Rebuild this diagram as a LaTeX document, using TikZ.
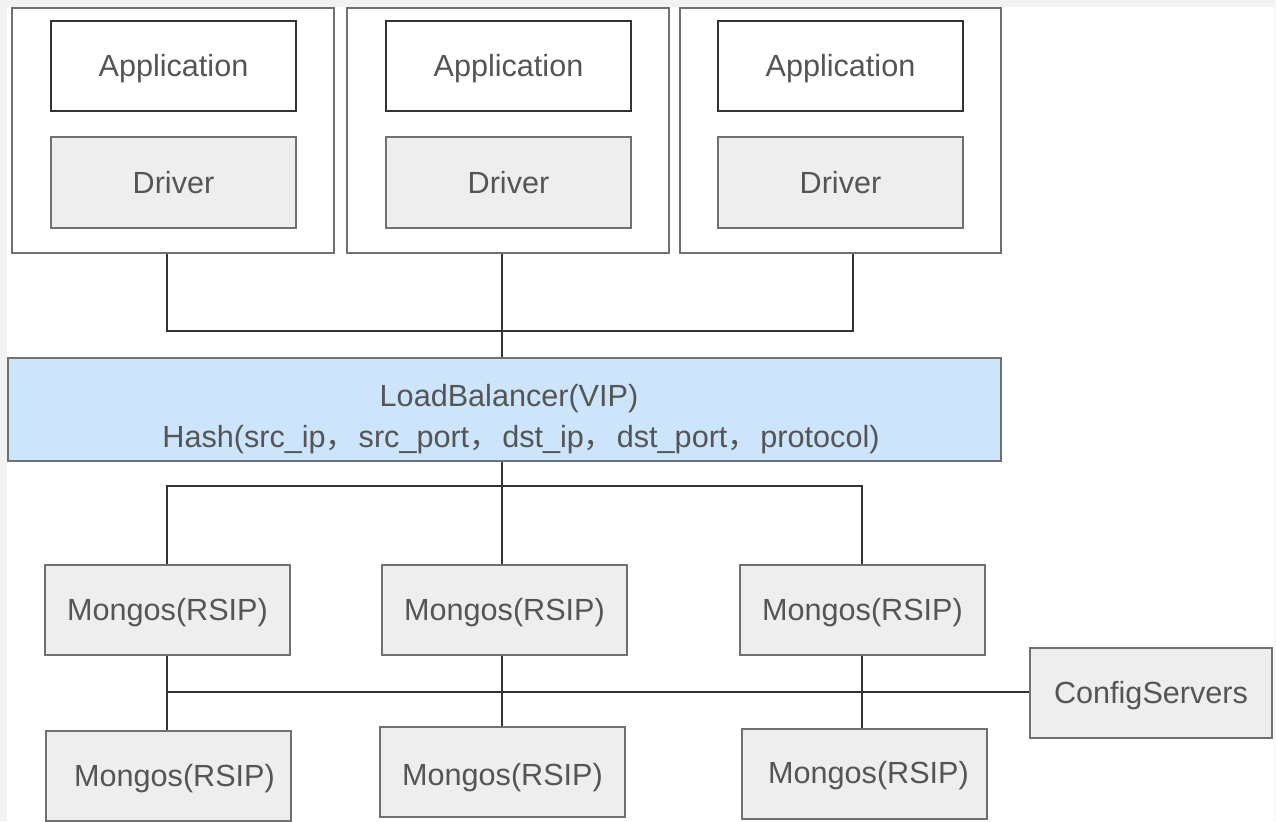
\documentclass[tikz,border=0pt]{standalone}
\usepackage{fontspec}
\setmainfont{Liberation Sans}
\newfontfamily\cjkf{Noto Sans CJK SC}
\newcommand{\fwc}{{\cjkf ，}\hspace{1.2pt}}
\definecolor{txt}{HTML}{555555}
\definecolor{bord}{HTML}{707070}
\definecolor{drvfill}{HTML}{EEEEEE}
\definecolor{lbfill}{HTML}{CCE5FB}
\definecolor{wire}{HTML}{333333}
\begin{document}
\begin{tikzpicture}[x=0.5pt,y=-0.5pt,
  every node/.style={font=\fontsize{15.3}{18.5}\selectfont, text=txt},
  onel/.style={text height=13.8pt, text depth=3.2pt},
  outerbox/.style={draw=bord, line width=0.7pt, fill=white, minimum width=161pt, minimum height=122.5pt, inner sep=0pt},
  appbox/.style={onel, draw=black!80, line width=0.7pt, fill=white, minimum width=122.5pt, minimum height=45pt, inner sep=0pt},
  grbox/.style={onel, draw=bord, line width=0.7pt, fill=drvfill, minimum width=122.5pt, minimum height=45pt, inner sep=0pt},
  lbbox/.style={draw=bord, line width=0.7pt, fill=lbfill, minimum width=496.5pt, minimum height=51.5pt, inner sep=0pt},
  lbtext/.style={onel, inner sep=0pt},
  wireline/.style={draw=wire, line width=0.7pt}]
\useasboundingbox (0,0) rectangle (1276,821);
\fill[white] (0,0) rectangle (1276,821);
\fill[black!5] (0,0) rectangle (1276,7);
\fill[black!5] (0,0) rectangle (7,821);
\fill[black!3] (1274,0) rectangle (1276,821);
% client groups
\node[outerbox] (o1) at (173,130.5) {};
\node[outerbox] (o2) at (508,130.5) {};
\node[outerbox, minimum width=160.5pt] (o3) at (840.5,130.5) {};
\node[appbox] (a1) at (173.5,66) {Application};
\node[appbox] (a2) at (508.5,66) {Application};
\node[appbox] (a3) at (840.5,66) {Application};
\node[grbox, minimum height=45.5pt] (d1) at (173.5,182.5) {Driver};
\node[grbox, minimum height=45.5pt] (d2) at (508.5,182.5) {Driver};
\node[grbox, minimum height=45.5pt] (d3) at (840.5,182.5) {Driver};
% load balancer
\node[lbbox] (lb) at (504.5,409.5) {};
\node[lbtext] (lbt1) at (509,396) {LoadBalancer(VIP)};
\node[lbtext] (lbt2) at (521,437) {Hash(src\_ip\fwc src\_port\fwc dst\_ip\fwc dst\_port\fwc protocol)};
% mongos
\node[grbox] (m1) at (167.5,610) {Mongos(RSIP)};
\node[grbox] (m2) at (504.5,610) {Mongos(RSIP)};
\node[grbox] (m3) at (862.5,610) {Mongos(RSIP)};
\node[grbox] (m4) at (168.5,776) {\hspace{6pt}Mongos(RSIP)};
\node[grbox] (m5) at (502.5,772) {\raisebox{-1.5pt}{Mongos(RSIP)}};
\node[grbox] (m6) at (864.5,774) {\hspace{4pt}\raisebox{0.8pt}{Mongos(RSIP)}};
\node[grbox, minimum width=121pt] (cs) at (1151,693) {ConfigServers};
% top connectors
\coordinate (j1) at (167,331);
\coordinate (j2) at (502,331);
\coordinate (j3) at (853,331);
\draw[wireline] (j1 |- o1.south) -- (j1) -- (j3) -- (j3 |- o3.south);
\draw[wireline] (j2 |- o2.south) -- (j2 |- lb.north);
% LB to mongos
\coordinate (k1) at (167,486);
\coordinate (k2) at (502,486);
\coordinate (k3) at (862,486);
\draw[wireline] (k2 |- lb.south) -- (k2 |- m2.north);
\draw[wireline] (k1 |- m1.north) -- (k1) -- (k3) -- (k3 |- m3.north);
% bus
\coordinate (b1) at (167,692);
\coordinate (b2) at (502,692);
\coordinate (b3) at (862,692);
\draw[wireline] (b1) -- (b1 -| cs.west);
\draw[wireline] (b1 |- m1.south) -- (b1 |- m4.north);
\draw[wireline] (b2 |- m2.south) -- (b2 |- m5.north);
\draw[wireline] (b3 |- m3.south) -- (b3 |- m6.north);
\end{tikzpicture}
\end{document}
